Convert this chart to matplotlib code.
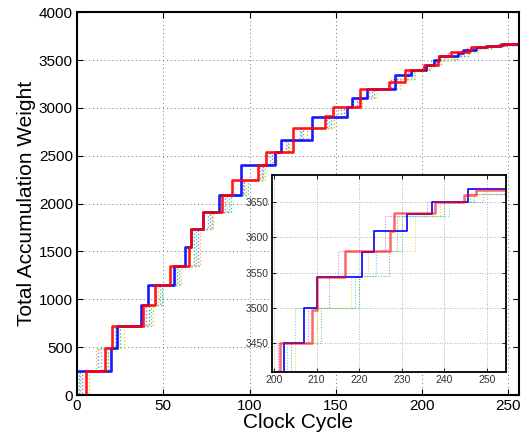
import numpy as np
import matplotlib.pyplot as plt

plt.rcParams['font.family'] = ['Liberation Sans', 'DejaVu Sans']

# step data (steps-post): x where each level starts
blue_x = [0, 19.5, 23, 37, 41, 56, 62.5, 66, 73, 82, 95, 114.5, 118.4, 135.9, 156.2, 159.1,
          168, 184.2, 193.8, 202.3, 207.1, 210, 220.6, 223.5, 231.3, 237.2, 245.6, 256]
blue_y = [250, 490, 725, 945, 1155, 1350, 1545, 1740, 1915, 2090, 2400, 2540, 2670, 2910, 3010, 3100,
          3200, 3340, 3400, 3450, 3500, 3544, 3579, 3609, 3633, 3650, 3667, 3667]

red_x = [5, 5, 16, 20, 38, 45, 54, 65, 66, 73.3, 84, 90, 105, 109.7, 125, 143.6, 148.4, 164,
         181, 190, 201.3, 209, 210, 216.7, 227.3, 228.2, 237.7, 244.6, 247.5, 256]
red_y = [0, 250, 490, 720, 940, 1150, 1350, 1545, 1740, 1915, 2090, 2250, 2400, 2540, 2790, 2915, 3010, 3200,
         3271, 3400, 3451, 3497, 3544, 3581, 3609, 3634, 3650, 3659, 3666, 3666]

# faint dotted runs, all stepping through the same levels
dot_levels = [0, 250, 490, 720, 940, 1150, 1350, 1740, 1915, 2090, 2250, 2400, 2540, 2670, 2790, 2910,
              3010, 3100, 3200, 3300, 3400, 3450, 3500, 3545, 3580, 3630, 3650, 3660, 3660]
magenta_x = [0, 3, 12, 24, 40, 46, 57, 70, 77, 86, 97, 107, 113, 121, 131, 145, 153, 162, 171, 182,
             192, 201, 208, 213, 215, 226, 236, 249, 256]
cyan_x = [0, 2, 14, 22, 43, 48, 59, 69, 76, 88, 99, 106, 112, 119, 129, 146, 151, 163, 169, 184,
          195, 203, 205, 219, 224, 230, 241, 247, 256]
green_x = [0, 1, 18, 25, 42, 49, 58, 68, 78, 89, 96, 108, 114, 122, 130, 147, 155, 160, 172, 185,
           194, 204, 211, 220, 227, 229, 240, 246, 256]
yellow_x = [0, 7, 11, 27, 44, 47, 60, 71, 79, 87, 98, 109, 116, 123, 133, 149, 157, 165, 174, 187,
            196, 205, 210, 218, 222, 233, 239, 245, 256]

dotted = [(magenta_x, '#d060e0'), (cyan_x, '#40d0e0'), (green_x, '#50b860'), (yellow_x, '#d8d040')]

fig = plt.figure(figsize=(5.31, 4.37), dpi=100)
ax = fig.add_axes([0.145, 0.096, 0.832, 0.876])

for xs, c in dotted:
    ax.step(xs, dot_levels, where='post', color=c, lw=1.0, ls=(0, (1, 1.5)))
ax.step(blue_x, blue_y, where='post', color='blue', lw=1.9, alpha=0.9)
ax.step(red_x, red_y, where='post', color='red', lw=1.9, alpha=0.9)

ax.set_xlim(0, 256)
ax.set_ylim(0, 4000)
ax.set_xticks(np.arange(0, 251, 50))
ax.set_yticks(np.arange(0, 4001, 500))
ax.grid(True, color='0.45', ls=(0, (1, 3)), lw=0.7)
ax.tick_params(direction='in', top=True, right=True, length=4, width=0.8, labelsize=11, pad=3)
for s in ax.spines.values():
    s.set_linewidth(1.5)
ax.set_xlabel('Clock Cycle', fontsize=15, labelpad=0)
ax.set_ylabel('Total Accumulation Weight', fontsize=15, labelpad=2)

# inset zoom on the tail
ins = fig.add_axes([0.512, 0.149, 0.441, 0.4515])
for xs, c in dotted:
    ins.step(xs, dot_levels, where='post', color=c, lw=0.8, ls=(0, (1, 1.5)), alpha=0.8)
ins.step(blue_x, blue_y, where='post', color='blue', lw=1.2)
ins.step(red_x, red_y, where='post', color='red', lw=1.8, alpha=0.6)
ins.set_xlim(199.5, 254.5)
ins.set_ylim(3410, 3688)
ins.set_xticks(np.arange(200, 251, 10))
ins.set_yticks(np.arange(3450, 3651, 50))
ins.grid(True, color='0.6', ls=(0, (1, 2)), lw=0.6)
ins.tick_params(direction='in', top=True, right=True, length=3, width=0.6, labelsize=7.5,
                labelcolor='0.2', pad=2)
for s in ins.spines.values():
    s.set_linewidth(1.3)

fig.savefig('out.png', dpi=100)
